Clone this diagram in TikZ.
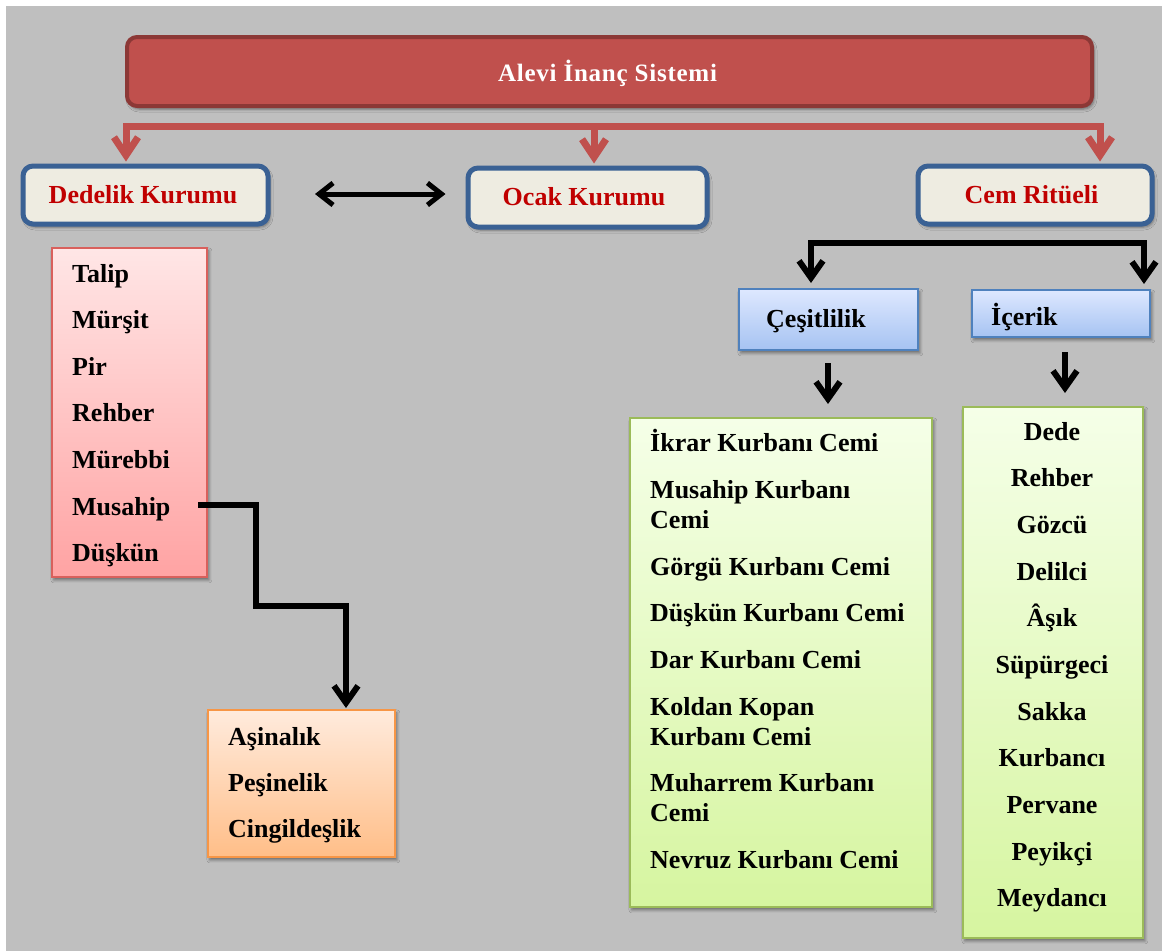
\documentclass[tikz,border=0pt]{standalone}
\usepackage{fontspec}
\setmainfont{Liberation Serif}
\usetikzlibrary{arrows.meta,shadows.blur}

\definecolor{pagegrey}{HTML}{BFBFBF}
\definecolor{titlefill}{HTML}{C0504D}
\definecolor{titleline}{HTML}{8C3836}
\definecolor{headfill}{HTML}{EEECE1}
\definecolor{headline}{HTML}{3A6194}
\definecolor{headtext}{HTML}{C00000}
\definecolor{pinkline}{HTML}{D9605C}
\definecolor{pinktop}{HTML}{FFE6E6}
\definecolor{pinkbot}{HTML}{FFA3A3}
\definecolor{orangeline}{HTML}{F79646}
\definecolor{orangetop}{HTML}{FFEBDD}
\definecolor{orangebot}{HTML}{FFBE88}
\definecolor{blueline}{HTML}{4F81BD}
\definecolor{bluetop}{HTML}{DEE8FF}
\definecolor{bluebot}{HTML}{A6C3F2}
\definecolor{greenline}{HTML}{9BBB59}
\definecolor{greentop}{HTML}{F5FFE8}
\definecolor{greenbot}{HTML}{D6F5A0}

\newcommand\itemfont{\fontsize{26}{30}\selectfont\bfseries}

\begin{document}
\begin{tikzpicture}[x=1pt,y=-1pt,
  softshadow/.style={blur shadow={shadow xshift=2pt,shadow yshift=-3pt,
      shadow blur radius=3pt,shadow opacity=45}},
  frame/.style={anchor=north west,inner sep=0pt,softshadow},
  titlebox/.style={frame,rounded corners=10pt,line width=4pt,
      draw=titleline,fill=titlefill},
  headbox/.style={frame,rounded corners=10pt,line width=5pt,
      draw=headline,fill=headfill},
  pinkbox/.style={frame,line width=1.8pt,draw=pinkline,
      top color=pinktop,bottom color=pinkbot},
  orangebox/.style={frame,line width=1.8pt,draw=orangeline,
      top color=orangetop,bottom color=orangebot},
  bluebox/.style={frame,line width=1.8pt,draw=blueline,
      top color=bluetop,bottom color=bluebot},
  greenbox/.style={frame,line width=1.8pt,draw=greenline,
      top color=greentop,bottom color=greenbot},
  titlelabel/.style={anchor=base,inner sep=0pt,text=white,
      font=\fontsize{25}{29}\selectfont\bfseries\addfontfeature{LetterSpace=3}},
  headlabel/.style={anchor=base,inner sep=0pt,text=headtext,
      font=\fontsize{26}{30}\selectfont\bfseries},
  item/.style={inner sep=0pt,text=black,font=\itemfont},
  itemwrap/.style={item,anchor=base west,align=flush left,text width=275pt},
  redline/.style={draw=titlefill,line width=7pt},
  redarrow/.style={redline,-{Straight Barb[length=18pt,width=24pt]}},
  blkline/.style={draw=black,line width=6pt,line join=miter},
  blkarrow/.style={blkline,-{Straight Barb[length=17pt,width=24pt]}},
  blkdouble/.style={blkline,line width=5pt,
      {Straight Barb[length=14pt,width=22pt]}-{Straight Barb[length=14pt,width=22pt]}}
]
\useasboundingbox (0,0) rectangle (1162,951);
\fill[white] (0,0) rectangle (1162,951);
\fill[pagegrey] (6,6) rectangle (1162,951);

% top level
\node[titlebox,minimum width=965pt,minimum height=69pt] (title) at (125,35) {};
\node[titlelabel] (titletext) at (607.5,81) {Alevi İnanç Sistemi};

% three institutions
\node[headbox,minimum width=245pt,minimum height=58pt] (dedelik) at (20.5,163.5) {};
\node[headlabel] (dedeliktext) at (143,203) {Dedelik Kurumu};
\node[headbox,minimum width=239pt,minimum height=59pt] (ocak) at (465.5,165.5) {};
\node[headlabel] (ocaktext) at (584,205) {Ocak Kurumu};
\node[headbox,minimum width=234pt,minimum height=58pt] (cem) at (915.5,163.5) {};
\node[headlabel] (cemtext) at (1031.5,203) {Cem Ritüeli};

% red distribution bar
\coordinate (splitL) at (126,126);
\coordinate (splitM) at (594,126);
\coordinate (splitR) at (1100,126);
\draw[redline,line cap=rect] (splitL) -- (splitR);
\draw[redarrow,shorten >=2pt] (splitL) -- (splitL |- dedelik.north);
\draw[redarrow,shorten >=2pt] (splitM) -- (splitM |- ocak.north);
\draw[redarrow,shorten >=2pt] (splitR) -- (splitR |- cem.north);

% link between Dedelik and Ocak
\coordinate (linkL) at (315,194);
\draw[blkdouble] (linkL) -- ([xshift=-20pt]ocak.west |- linkL);

% Dedelik hierarchy
\node[pinkbox,minimum width=155pt,minimum height=329pt] (dedelist) at (51,247) {};
\foreach \t [count=\i] in {Talip,Mürşit,Pir,Rehber,Mürebbi,Musahip,Düşkün}
  \node[item,anchor=base west] (dede\i) at (72,{282+46.6*(\i-1)}) {\t};

\node[orangebox,minimum width=187pt,minimum height=147pt] (musahiplist) at (207,709) {};
\foreach \t [count=\i] in {Aşinalık,Peşinelik,Cingildeşlik}
  \node[item,anchor=base west] (mus\i) at (228,{745+46.2*(\i-1)}) {\t};

\coordinate (musahipout) at (198,505);
\coordinate (stepA) at (256,606);
\coordinate (stepB) at (346,606);
\draw[blkarrow,shorten >=1pt] (musahipout) -| (stepA) -- (stepB) -- (stepB |- musahiplist.north);

% Cem branches
\node[bluebox,minimum width=179pt,minimum height=61pt] (cesit) at (738,288) {};
\node[item,anchor=base west] (cesittext) at (766,327) {Çeşitlilik};
\node[bluebox,minimum width=178pt,minimum height=47pt] (icerik) at (971,289) {};
\node[item,anchor=base west] (iceriktext) at (991,325) {İçerik};

\coordinate (bracketL) at (811,243);
\coordinate (bracketR) at (1144,243);
\draw[blkline,shorten <=5pt,shorten >=5pt,
      {Straight Barb[length=17pt,width=24pt]}-{Straight Barb[length=17pt,width=24pt]}]
  (bracketL |- cesit.north) -- (bracketL) -- (bracketR) -- (bracketR |- icerik.north);

% ceremony kinds
\node[greenbox,minimum width=302pt,minimum height=489pt] (kinds) at (629,417) {};
\node[item,anchor=base west] (kind1) at (650,451.7) {İkrar Kurbanı Cemi};
\node[itemwrap] (kind2) at (650,498.3) {Musahip Kurbanı\\Cemi};
\node[item,anchor=base west] (kind3) at (650,575) {Görgü Kurbanı Cemi};
\node[item,anchor=base west] (kind4) at (650,621.7) {Düşkün Kurbanı Cemi};
\node[item,anchor=base west] (kind5) at (650,668.3) {Dar Kurbanı Cemi};
\node[itemwrap] (kind6) at (650,715) {Koldan Kopan\\Kurbanı Cemi};
\node[itemwrap] (kind7) at (650,791.7) {Muharrem Kurbanı\\Cemi};
\node[item,anchor=base west] (kind8) at (650,868.3) {Nevruz Kurbanı Cemi};

\coordinate (cesitdown) at (828,363);
\draw[blkarrow,shorten >=13pt] (cesitdown) -- (cesitdown |- kinds.north);

% ceremony roles
\node[greenbox,minimum width=180pt,minimum height=531pt] (roles) at (962,406) {};
\foreach \t [count=\i] in {Dede,Rehber,Gözcü,Delilci,Âşık,Süpürgeci,Sakka,Kurbancı,Pervane,Peyikçi,Meydancı}
  \node[item,anchor=base] (role\i) at (1052,{440+46.67*(\i-1)}) {\t};

\coordinate (icerikdown) at (1065,352);
\draw[blkarrow,shorten >=13pt] (icerikdown) -- (icerikdown |- roles.north);
\end{tikzpicture}
\end{document}
